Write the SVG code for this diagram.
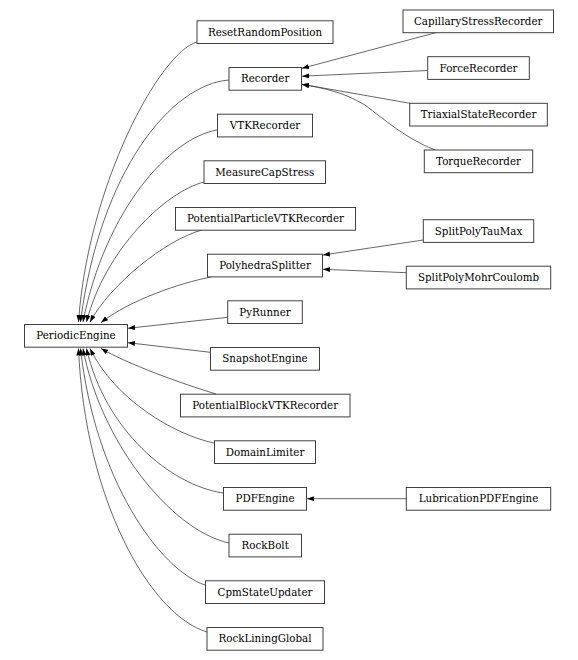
<svg xmlns="http://www.w3.org/2000/svg" width="578" height="660" viewBox="0 0 578 660">
<style>
.n rect{fill:#fff;stroke:#404040;stroke-width:1}
.n text{font-family:"DejaVu Serif",serif;font-size:10.3px;fill:#000;text-anchor:middle}
.e path{fill:none;stroke:#404040;stroke-width:0.8;marker-end:url(#ah)}
</style>
<defs>
<marker id="ah" markerUnits="userSpaceOnUse" markerWidth="8" markerHeight="6" refX="7" refY="2.5" orient="auto">
<path d="M0,0 L7,2.5 L0,5 z" fill="#000"/>
</marker>
</defs>
<rect width="578" height="660" fill="#fff"/>
<g id="edges" class="e">
<path d="M197,42 C160,52 88,185 78.5,322"/>
<path d="M229,80 C172,84 100,170 80.5,322"/>
<path d="M217,130 C170,138 105,210 83,322"/>
<path d="M204,182 C165,192 105,250 86.5,322"/>
<path d="M202,230 C165,240 110,285 90,322"/>
<path d="M211,277 C180,283 130,300 101,322.5"/>
<path d="M227.7,317.3 L128,328.3"/>
<path d="M210.3,352.3 L128,342.7"/>
<path d="M216,394 C180,383 130,365 101,348.5"/>
<path d="M214,443 C175,435 115,400 90,348.5"/>
<path d="M223,493 C170,485 105,430 86.5,348.5"/>
<path d="M229,543 C170,530 100,440 83,348.5"/>
<path d="M205,585 C160,570 95,480 80.5,348.5"/>
<path d="M207,632 C150,615 85,500 78.5,348.5"/>
<path d="M436.5,32.5 L302,68.3"/>
<path d="M428,70.5 L302,76.2"/>
<path d="M410,103.3 L302,84.3"/>
<path d="M435,150 C405,138 385,120 365,105 C345,93 325,88 302,84.5"/>
<path d="M423.3,240 L323,255"/>
<path d="M406.3,272.7 L323,269.3"/>
<path d="M406.3,498.7 L307,498.7"/>
</g>
<g id="PeriodicEngine" class="n"><rect x="24.5" y="324.5" width="103" height="22.7"/><text x="76" y="339.3">PeriodicEngine</text></g>
<g id="ResetRandomPosition" class="n"><rect x="197" y="20.8" width="136" height="22.7"/><text x="265" y="35.6">ResetRandomPosition</text></g>
<g id="Recorder" class="n"><rect x="229" y="67.5" width="72.5" height="22.7"/><text x="265.2" y="82.3">Recorder</text></g>
<g id="VTKRecorder" class="n"><rect x="217.5" y="114.2" width="95" height="22.7"/><text x="265" y="129">VTKRecorder</text></g>
<g id="MeasureCapStress" class="n"><rect x="204" y="160.8" width="121.5" height="22.7"/><text x="264.8" y="175.6">MeasureCapStress</text></g>
<g id="PotentialParticleVTKRecorder" class="n"><rect x="175.5" y="207.5" width="180" height="22.7"/><text x="265.5" y="222.3">PotentialParticleVTKRecorder</text></g>
<g id="PolyhedraSplitter" class="n"><rect x="207.5" y="254.2" width="115" height="22.7"/><text x="265" y="269">PolyhedraSplitter</text></g>
<g id="PyRunner" class="n"><rect x="227.7" y="300.8" width="74.6" height="22.7"/><text x="265" y="315.6">PyRunner</text></g>
<g id="SnapshotEngine" class="n"><rect x="210.5" y="347.5" width="109" height="22.7"/><text x="265" y="362.3">SnapshotEngine</text></g>
<g id="PotentialBlockVTKRecorder" class="n"><rect x="180.5" y="394.2" width="169.5" height="22.7"/><text x="265.2" y="409">PotentialBlockVTKRecorder</text></g>
<g id="DomainLimiter" class="n"><rect x="214.5" y="440.8" width="101" height="22.7"/><text x="265" y="455.6">DomainLimiter</text></g>
<g id="PDFEngine" class="n"><rect x="223.5" y="487.5" width="83" height="22.7"/><text x="265" y="502.3">PDFEngine</text></g>
<g id="RockBolt" class="n"><rect x="229" y="534.2" width="72.5" height="22.7"/><text x="265.2" y="549">RockBolt</text></g>
<g id="CpmStateUpdater" class="n"><rect x="205.5" y="580.8" width="119" height="22.7"/><text x="265" y="595.6">CpmStateUpdater</text></g>
<g id="RockLiningGlobal" class="n"><rect x="207" y="627.5" width="116" height="22.7"/><text x="265" y="642.3">RockLiningGlobal</text></g>
<g id="CapillaryStressRecorder" class="n"><rect x="403" y="10" width="150.5" height="22.7"/><text x="478.2" y="24.8">CapillaryStressRecorder</text></g>
<g id="ForceRecorder" class="n"><rect x="427.7" y="56.7" width="101.6" height="22.7"/><text x="478.5" y="71.5">ForceRecorder</text></g>
<g id="TriaxialStateRecorder" class="n"><rect x="409.7" y="103.3" width="137.6" height="22.7"/><text x="478.5" y="118.1">TriaxialStateRecorder</text></g>
<g id="TorqueRecorder" class="n"><rect x="424.3" y="150" width="108.4" height="22.7"/><text x="478.5" y="164.8">TorqueRecorder</text></g>
<g id="SplitPolyTauMax" class="n"><rect x="423.3" y="219.7" width="110.4" height="22.7"/><text x="478.5" y="234.5">SplitPolyTauMax</text></g>
<g id="SplitPolyMohrCoulomb" class="n"><rect x="406.3" y="266.2" width="144.4" height="22.7"/><text x="478.5" y="281">SplitPolyMohrCoulomb</text></g>
<g id="LubricationPDFEngine" class="n"><rect x="406.3" y="487.5" width="144.4" height="22.7"/><text x="478.5" y="502.3">LubricationPDFEngine</text></g>
</svg>
